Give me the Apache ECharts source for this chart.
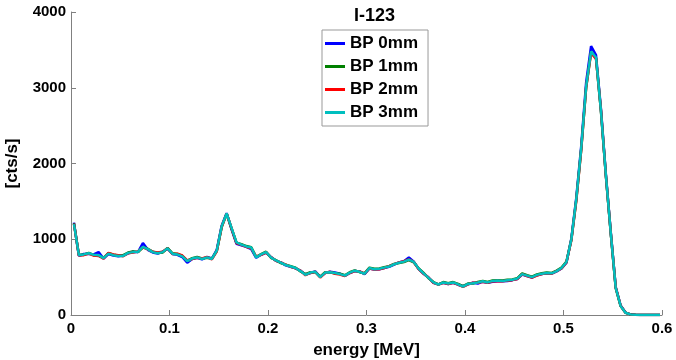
<!DOCTYPE html>
<html>
<head>
<meta charset="utf-8">
<script src="https://cdn.jsdelivr.net/npm/echarts@6/dist/echarts.min.js"></script>
<style>
  html, body { margin: 0; padding: 0; background: #fff; }
  #main { width: 676px; height: 360px; }
</style>
</head>
<body>
<div id="main"></div>
<script>
// energy bins [MeV]
var energy = [
  0.003,0.008,0.013,0.018,0.023,0.028,0.033,0.038,0.043,0.048,
  0.053,0.058,0.063,0.068,0.073,0.078,0.083,0.088,0.093,0.098,
  0.103,0.108,0.113,0.118,0.123,0.128,0.133,0.138,0.143,0.148,
  0.153,0.158,0.163,0.168,0.173,0.178,0.183,0.188,0.193,0.198,
  0.203,0.208,0.213,0.218,0.223,0.228,0.233,0.238,0.243,0.248,
  0.253,0.258,0.263,0.268,0.273,0.278,0.283,0.288,0.293,0.298,
  0.303,0.308,0.313,0.318,0.323,0.328,0.333,0.338,0.343,0.348,
  0.353,0.358,0.363,0.368,0.373,0.378,0.383,0.388,0.393,0.398,
  0.403,0.408,0.413,0.418,0.423,0.428,0.433,0.438,0.443,0.448,
  0.453,0.458,0.463,0.468,0.473,0.478,0.483,0.488,0.493,0.498,
  0.503,0.508,0.513,0.518,0.523,0.528,0.533,0.538,0.543,0.548,
  0.553,0.558,0.563,0.568,0.573,0.578,0.583,0.588,0.593,0.598
]

var bp0 = [
  1220,780,805,810,800,830,745,805,785,775,
  785,815,835,830,950,860,825,810,835,875,
  805,795,765,690,740,755,735,765,745,860,
  1180,1345,1130,940,920,900,870,755,795,825,
  765,715,695,655,635,615,585,535,555,575,
  505,555,570,560,545,515,555,580,575,540,
  615,600,605,620,635,665,695,710,760,705,
  605,545,495,425,405,425,410,425,400,380,
  405,425,415,440,425,440,445,445,450,460,
  475,535,515,495,525,540,550,545,575,615,
  690,1010,1550,2230,3070,3550,3430,2720,1860,1090,
  370,125,32,9,2,0,0,0,0,0
]
var bp1 = [
  1210,795,795,820,790,785,755,815,795,785,
  790,825,840,830,890,875,835,820,825,885,
  815,805,780,715,750,765,745,755,745,845,
  1160,1335,1140,955,935,910,895,765,805,835,
  755,725,685,665,645,625,575,540,565,565,
  505,565,560,550,545,525,565,590,565,550,
  625,610,615,630,645,675,685,700,725,695,
  615,555,485,435,405,435,420,435,410,380,
  415,415,435,450,435,455,460,455,465,470,
  485,550,525,505,535,550,560,555,585,625,
  705,995,1520,2190,3000,3470,3390,2690,1840,1075,
  355,118,29,8,2,0,0,0,0,0
]
var bp2 = [
  1205,785,790,810,785,780,745,820,800,790,
  775,815,825,840,895,865,835,825,835,880,
  805,810,785,720,740,755,745,765,735,840,
  1165,1340,1145,950,925,900,880,770,795,825,
  765,715,695,665,635,615,585,525,555,570,
  495,555,570,545,535,515,555,580,575,545,
  615,600,605,620,645,670,695,710,735,700,
  605,545,495,425,400,425,410,425,400,370,
  405,425,425,440,425,445,450,445,455,460,
  475,540,515,495,520,540,550,545,580,615,
  695,990,1510,2180,3010,3460,3380,2710,1845,1085,
  365,122,31,8,2,0,0,0,0,0
]
var bp3 = [
  1200,790,800,815,795,790,750,810,790,780,
  780,820,830,835,900,870,830,815,830,880,
  810,800,775,710,745,760,740,760,740,850,
  1170,1340,1150,960,930,905,890,760,800,830,
  760,720,690,660,640,620,580,530,560,570,
  500,560,565,555,540,520,560,585,570,545,
  620,605,610,625,640,670,690,705,730,700,
  610,550,490,430,400,430,415,430,405,375,
  410,420,430,445,430,450,455,450,460,465,
  480,540,520,500,530,545,555,550,580,620,
  700,1000,1530,2200,3020,3480,3400,2700,1850,1080,
  360,120,30,8,2,0,0,0,0,0
]

var names = ['BP 0mm', 'BP 1mm', 'BP 2mm', 'BP 3mm']
var colors = ['#0000ff', '#008000', '#ff0000', '#00bfbf']
var values = [bp0, bp1, bp2, bp3]

var font = 'Liberation Sans, Arial, sans-serif'
var myChart = echarts.init(document.getElementById('main'))

var series = []
for (var i = 0; i < names.length; i++) {
  var pts = []
  for (var j = 0; j < energy.length; j++) pts.push([energy[j], values[i][j]])
  series.push({
    name: names[i],
    type: 'line',
    data: pts,
    symbol: 'none',
    color: colors[i],
    lineStyle: { width: 2.5, color: colors[i] }
  })
}

var axisCommon = {
  axisLine: { show: true, lineStyle: { color: '#808080', width: 1 } },
  axisTick: { show: true, inside: true, length: 5, lineStyle: { color: '#808080' } },
  splitLine: { show: false },
  axisLabel: { color: '#000', fontFamily: font, fontWeight: 'bold', fontSize: 15 },
  nameTextStyle: { color: '#000', fontFamily: font, fontWeight: 'bold', fontSize: 17 }
}

var option = {
  animation: false,
  backgroundColor: '#fff',
  title: {
    text: 'I-123',
    left: 354,
    top: 7,
    padding: 0,
    textStyle: { fontFamily: font, fontWeight: 'bold', fontSize: 18, color: '#000' }
  },
  legend: {
    data: names,
    orient: 'vertical',
    left: 322,
    top: 30,
    padding: [5, 10, 5, 3],
    itemWidth: 20,
    itemHeight: 3,
    itemGap: 6,
    icon: 'rect',
    borderColor: '#999',
    borderWidth: 1,
    backgroundColor: '#fff',
    textStyle: { fontFamily: font, fontWeight: 'bold', fontSize: 17, lineHeight: 17, color: '#000' }
  },
  grid: { left: 71, right: 14, top: 12, bottom: 45, containLabel: false, outerBoundsMode: 'none' },
  xAxis: Object.assign({}, axisCommon, {
    type: 'value',
    min: 0,
    max: 0.6,
    interval: 0.1,
    name: 'energy [MeV]',
    nameLocation: 'middle',
    nameGap: 27,
    axisLabel: Object.assign({}, axisCommon.axisLabel, { margin: 6 })
  }),
  yAxis: Object.assign({}, axisCommon, {
    type: 'value',
    min: 0,
    max: 4000,
    interval: 1000,
    name: '[cts/s]',
    nameLocation: 'middle',
    nameGap: 50,
    axisLabel: Object.assign({}, axisCommon.axisLabel, {
      margin: 5,
      formatter: function (v) { return String(v) }
    })
  }),
  series: series
}
myChart.setOption(option)
</script>
</body>
</html>
